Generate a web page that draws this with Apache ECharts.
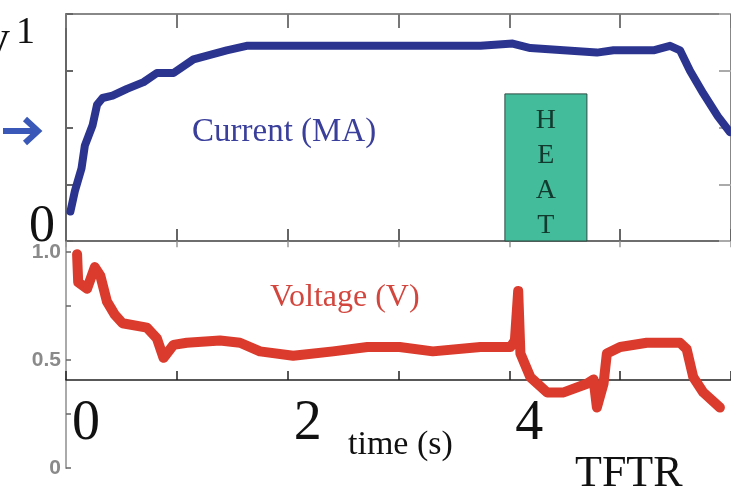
<!DOCTYPE html>
<html lang="en">
<head>
	<meta charset="UTF-8">
	<title>TFTR current / voltage</title>
	<script src="https://cdn.jsdelivr.net/npm/echarts@6/dist/echarts.min.js"></script>
	<style>
		html,body{margin:0;height:100%;background:#fff;}
	</style>
</head>
<body>
	<div id="chart" style="width:731px; height:490px;"></div>
	<script>
	// plasma current (top panel)
	var currentTime = [0.04,0.08,0.14,0.17,0.24,0.28,0.33,0.42,0.55,0.70,0.82,0.97,1.15,1.45,1.63,2.11,2.56,3.01,3.47,3.74,4.03,4.19,4.49,4.79,4.94,5.30,5.45,5.54,5.63,5.75,5.88,5.99];
	var currentMA   = [0.13,0.22,0.32,0.42,0.51,0.60,0.63,0.64,0.67,0.70,0.74,0.74,0.80,0.84,0.86,0.86,0.86,0.86,0.86,0.86,0.87,0.85,0.84,0.83,0.84,0.84,0.86,0.84,0.75,0.65,0.55,0.48];

	// loop voltage (bottom panel)
	var voltageTime = [0.10,0.11,0.19,0.26,0.31,0.37,0.44,0.51,0.73,0.82,0.88,0.97,1.09,1.39,1.57,1.75,2.05,2.41,2.72,3.01,3.31,3.74,4.01,4.05,4.08,4.10,4.19,4.34,4.49,4.70,4.76,4.79,4.85,4.88,5.00,5.24,5.54,5.60,5.66,5.75,5.90];
	var voltageV    = [0.99,0.86,0.83,0.93,0.89,0.77,0.71,0.67,0.65,0.60,0.51,0.57,0.58,0.59,0.58,0.54,0.52,0.54,0.56,0.56,0.54,0.56,0.56,0.59,0.82,0.53,0.42,0.35,0.35,0.39,0.41,0.28,0.39,0.53,0.56,0.58,0.58,0.55,0.42,0.35,0.28];

	// heating window (s) and its height on the current scale
	var heatStart = 3.96, heatEnd = 4.70, heatTop = 0.648;

	var timeTicks = [0, 2, 4];
	var currentTicks = [0, 1];
	var voltageTicks = [0, 0.5, 1];

	function pairs(xs, ys){
		var out = [];
		for (var i = 0; i < xs.length; i++) out.push([xs[i], ys[i]]);
		return out;
	}

	var serif = 'Liberation Serif';

	var option = {
		animation: false,
		grid: [
			{left: 66, top: 14, right: 0, height: 227},
			{left: 66, top: 241.2, right: 0, height: 226.8}
		],
		xAxis: [
			{ // top panel, bottom border
				gridIndex: 0, type: 'value', min: 0, max: 6, interval: 1,
				axisLine: {onZero: false, lineStyle: {color: '#555', width: 2}},
				axisTick: {inside: true, length: 12, lineStyle: {color: '#666', width: 2}},
				axisLabel: {show: false}, splitLine: {show: false}
			},
			{ // top panel, top border
				gridIndex: 0, type: 'value', position: 'top', min: 0, max: 6, interval: 1,
				axisLine: {onZero: false, lineStyle: {color: '#888', width: 2}},
				axisTick: {inside: true, length: 14, lineStyle: {color: '#777', width: 2}},
				axisLabel: {show: false}, splitLine: {show: false}
			},
			{ // bottom panel time axis (drawn at V ~ 0.41)
				gridIndex: 1, type: 'value', min: 0, max: 6, interval: 1, offset: -88,
				axisLine: {onZero: false, lineStyle: {color: '#222', width: 1.5}},
				axisTick: {inside: true, length: 9, lineStyle: {color: '#222', width: 1.5}},
				axisLabel: {
					customValues: timeTicks, margin: 16, padding: [0, 0, 0, 40],
					fontFamily: serif, fontSize: 56, color: '#111'
				},
				splitLine: {show: false}
			},
			{ // bottom panel top border
				gridIndex: 1, type: 'value', position: 'top', min: 0, max: 6, interval: 1,
				axisLine: {onZero: false, lineStyle: {color: '#777', width: 1.5}},
				axisTick: {inside: true, length: 6, lineStyle: {color: '#999', width: 1.5}},
				axisLabel: {show: false}, splitLine: {show: false}
			}
		],
		yAxis: [
			{
				gridIndex: 0, type: 'value', min: 0, max: 1, interval: 0.25,
				axisLine: {show: true, onZero: false, lineStyle: {color: '#666', width: 2}},
				axisTick: {show: true, inside: true, length: 7, lineStyle: {color: '#666', width: 2}},
				axisLabel: {
					customValues: currentTicks, margin: 11,
					verticalAlignMinLabel: 'bottom', verticalAlignMaxLabel: 'top',
					formatter: function(v){ return v === 1 ? '{a|1}' : '{b|0}'; },
					rich: {
						a: {fontFamily: serif, fontSize: 38, color: '#111', padding: [0, 20, 0, 0]},
						b: {fontFamily: serif, fontSize: 52, color: '#111', padding: [0, 0, -12, 0]}
					}
				},
				splitLine: {show: false}
			},
			{
				gridIndex: 0, type: 'value', position: 'right', min: 0, max: 1, interval: 0.25,
				axisLine: {show: true, onZero: false, lineStyle: {color: '#888', width: 2}},
				axisTick: {show: true, inside: true, length: 12, lineStyle: {color: '#aaa', width: 2}},
				axisLabel: {show: false}, splitLine: {show: false}
			},
			{
				gridIndex: 1, type: 'value', min: 0, max: 1.05, interval: 0.25,
				axisLine: {show: true, onZero: false, lineStyle: {color: '#aaa', width: 2}},
				axisTick: {show: true, inside: true, length: 5, lineStyle: {color: '#666', width: 1.5}},
				axisLabel: {
					customValues: voltageTicks, margin: 5,
					formatter: function(v){ return v === 0 ? '0' : v.toFixed(1); },
					fontFamily: 'Liberation Sans', fontWeight: 'bold', fontSize: 21, color: '#8a8a8a'
				},
				splitLine: {show: false}
			}
		],
		series: [
			{
				name: 'Current (MA)', type: 'line', xAxisIndex: 0, yAxisIndex: 0,
				data: pairs(currentTime, currentMA),
				showSymbol: false, z: 3,
				lineStyle: {color: '#2b3590', width: 8, cap: 'round', join: 'round'},
				markArea: {
					silent: true,
					itemStyle: {color: '#43bc9c', borderColor: '#2c4a40', borderWidth: 1},
					label: {
						position: 'inside', offset: [0, 6],
						fontFamily: serif, fontSize: 28, color: '#123a2e', lineHeight: 35
					},
					data: [[
						{name: 'H\nE\nA\nT', coord: [heatStart, heatTop]},
						{coord: [heatEnd, 0]}
					]]
				}
			},
			{
				name: 'Voltage (V)', type: 'line', xAxisIndex: 2, yAxisIndex: 2,
				data: pairs(voltageTime, voltageV),
				showSymbol: false, z: 3, clip: false,
				lineStyle: {color: '#da3b2c', width: 10, cap: 'round', join: 'round'}
			}
		],
		graphic: [
			{type: 'text', left: 192, top: 116, style: {text: 'Current (MA)', font: '33px "Liberation Serif"', fill: '#3a3f9b'}},
			{type: 'text', left: 270, top: 282, style: {text: 'Voltage (V)', font: '32px "Liberation Serif"', fill: '#d3463e'}},
			{type: 'text', left: 348, top: 428, style: {text: 'time (s)', font: '34px "Liberation Serif"', fill: '#111'}},
			{type: 'text', left: 575, top: 452, style: {text: 'TFTR', font: '44px "Liberation Serif"', fill: '#111'}},
			{type: 'text', left: -14, top: 16, style: {text: 'y', font: '48px "Liberation Serif"', fill: '#111'}},
			{
				type: 'group', left: 0, top: 116,
				children: [
					{type: 'line', shape: {x1: 0, y1: 14, x2: 34, y2: 14}, style: {stroke: '#3a58b8', lineWidth: 6}},
					{type: 'polyline', shape: {points: [[22, 2], [35, 14], [22, 26]]}, style: {stroke: '#3a58b8', lineWidth: 6, fill: null}}
				]
			}
		]
	};

	var myChart = echarts.init(document.getElementById('chart'));
	myChart.setOption(option);
	</script>
</body>
</html>
